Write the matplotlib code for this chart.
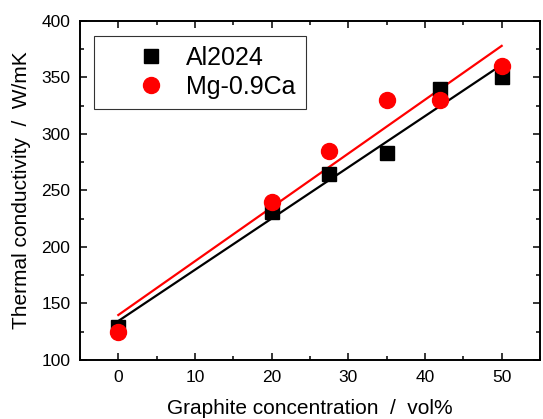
import matplotlib.pyplot as plt
import numpy as np

# Data
conc = [0, 20, 27.5, 35, 42, 50]
al2024 = [129, 231, 265, 283, 340, 350]
mg09ca = [125, 240, 285, 330, 330, 360]


def main():
    plt.rcParams['font.family'] = ['Liberation Sans', 'DejaVu Sans']

    fig = plt.figure(figsize=(5.43, 4.19), dpi=100)
    ax = fig.add_axes([0.1473, 0.1408, 0.8472, 0.8092])

    x = np.array(conc)
    # linear fits
    for ys, col in ((al2024, 'black'), (mg09ca, 'red')):
        k, b = np.polyfit(x, ys, 1)
        xx = np.array([0, 50])
        ax.plot(xx, k * xx + b, color=col, linewidth=1.6, zorder=2)

    ax.plot(conc, al2024, 's', color='black', markersize=9.5, label='Al2024', zorder=3)
    ax.plot(conc, mg09ca, 'o', color='red', markersize=11.5, label='Mg-0.9Ca', zorder=4)

    ax.set_xlim(-5, 55)
    ax.set_ylim(100, 400)
    ax.set_xticks([0, 10, 20, 30, 40, 50])
    ax.set_xticks(np.arange(-5, 56, 5), minor=True)
    ax.set_yticks(np.arange(100, 401, 50))
    ax.set_yticks(np.arange(100, 401, 25), minor=True)
    ax.tick_params(which='both', direction='in', top=True, right=True,
                   labeltop=False, labelright=False, width=1.1)
    ax.tick_params(which='major', length=5, labelsize=12.5, pad=7)
    ax.tick_params(which='minor', length=3)
    for s in ax.spines.values():
        s.set_linewidth(1.4)

    ax.set_xlabel('Graphite concentration  /  vol%', fontsize=15, labelpad=10)
    ax.set_ylabel('Thermal conductivity  /  W/mK', fontsize=15, labelpad=7)

    leg = ax.legend(loc='upper left', bbox_to_anchor=(0.03, 0.956), borderaxespad=0,
                    fontsize=18, frameon=True, fancybox=False, edgecolor='black',
                    handletextpad=-0.5, handlelength=3.8, borderpad=0.4, labelspacing=0.2)
    leg.get_frame().set_linewidth(0.8)

    fig.savefig('out.png', dpi=100)


if __name__ == "__main__":
    main()
